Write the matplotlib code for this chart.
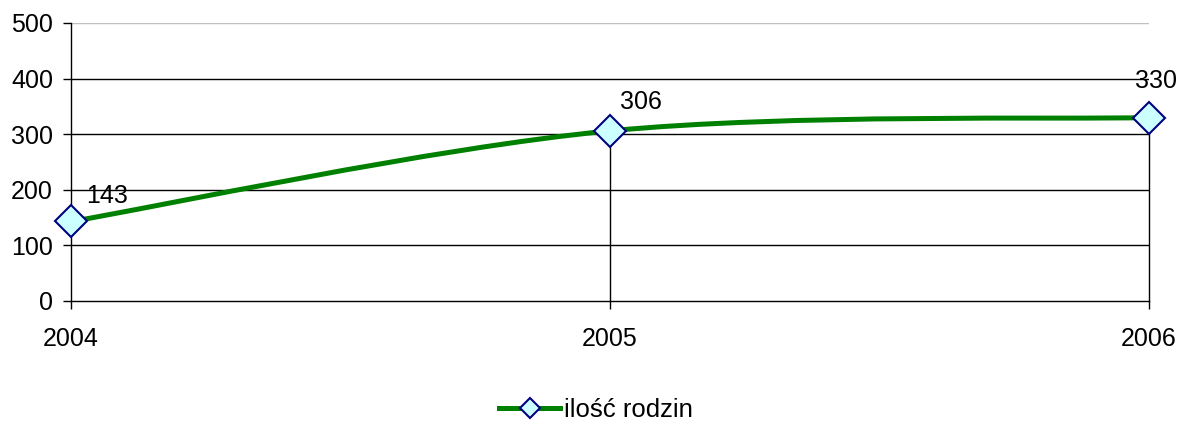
import matplotlib
matplotlib.use("Agg")
import matplotlib.pyplot as plt
from matplotlib.path import Path
from matplotlib.patches import PathPatch
from matplotlib.lines import Line2D

years = [2004, 2005, 2006]
values = [143, 306, 330]
series_name = "ilość rodzin"
yticks = [0, 100, 200, 300, 400, 500]

plt.rcParams['font.family'] = ['Liberation Sans', 'DejaVu Sans']

fig = plt.figure(figsize=(11.82, 4.25), dpi=100)
ax = fig.add_axes([71/1182, 124/425, (1149-71)/1182, (301-23)/425])
ax.set_xlim(years[0], years[-1])
ax.set_ylim(0, 500)

for s in ['top', 'right']:
    ax.spines[s].set_visible(False)
for s in ['left', 'bottom']:
    ax.spines[s].set_color('black')
    ax.spines[s].set_linewidth(1.0)

ax.set_yticks(yticks)
ax.set_xticks(years)
ax.set_xticklabels([str(y) for y in years])
ax.tick_params(axis='both', direction='out', length=6, width=1, colors='black', labelsize=18)
ax.tick_params(axis='y', pad=7)
ax.tick_params(axis='x', pad=13)

# horizontal gridlines
for v in yticks[1:]:
    col = '#c0c0c0' if v == yticks[-1] else 'black'
    ax.axhline(v, color=col, lw=1.0, zorder=1)

# drop lines
for x, v in zip(years[1:], values[1:]):
    ax.plot([x, x], [0, v], color='black', lw=1.0, zorder=1, clip_on=False)

# smoothed line (Excel-style Bezier)
pts = list(zip(years, values))
verts = [pts[0]]
codes = [Path.MOVETO]
n = len(pts)
for i in range(n - 1):
    p0 = pts[i - 1] if i > 0 else pts[i]
    p1 = pts[i]
    p2 = pts[i + 1]
    p3 = pts[i + 2] if i + 2 < n else pts[i + 1]
    c1 = (p1[0] + (p2[0] - p0[0]) / 6, p1[1] + (p2[1] - p0[1]) / 6)
    c2 = (p2[0] - (p3[0] - p1[0]) / 6, p2[1] - (p3[1] - p1[1]) / 6)
    verts += [c1, c2, p2]
    codes += [Path.CURVE4] * 3
patch = PathPatch(Path(verts, codes), facecolor='none', edgecolor='#008000', lw=3.6,
                  zorder=3, capstyle='butt', clip_on=False)
ax.add_patch(patch)

ax.plot(years, values, linestyle='none', marker='D', ms=16, mfc='#ccffff', mec='#000080',
        mew=1.5, zorder=4, clip_on=False)

label_offsets = [(11, 10), (7, 12), (-10, 18)]
for (x, v), off in zip(zip(years, values), label_offsets):
    ax.annotate(str(v), (x, v), xytext=off, textcoords='offset points',
                fontsize=18, ha='left', va='bottom', color='black', zorder=5,
                annotation_clip=False)

handle = Line2D([], [], color='#008000', lw=3.6, marker='D', ms=10, mfc='#ccffff',
                mec='#000080', mew=1.5)
fig.legend([handle], [series_name], loc='center', bbox_to_anchor=(596/1182, 1 - 410/425),
           frameon=False, fontsize=18.5, handlelength=2.4, handletextpad=0.15)

fig.savefig('out.png', dpi=100)
